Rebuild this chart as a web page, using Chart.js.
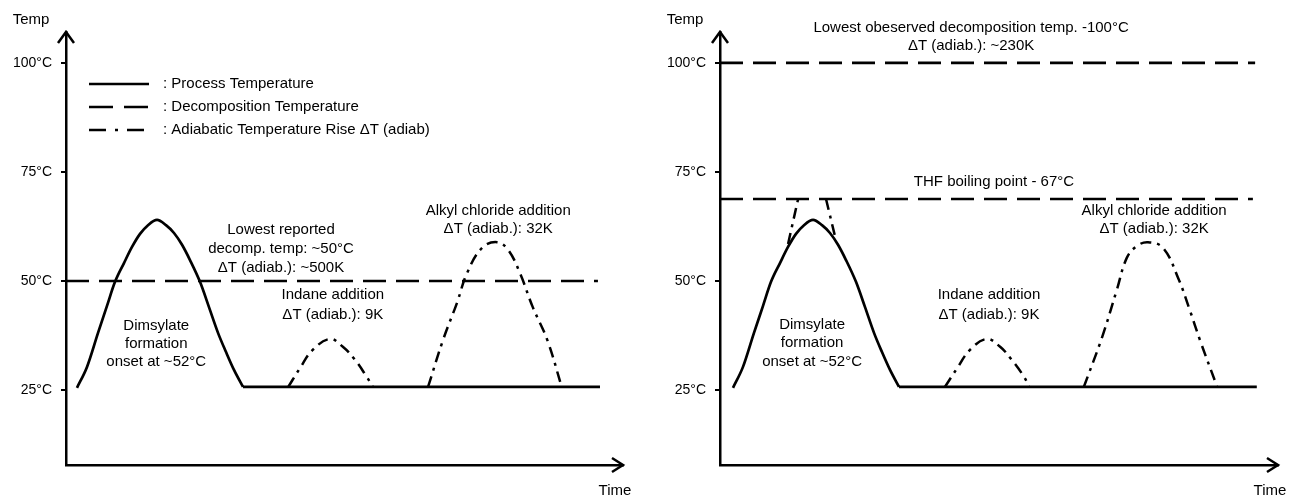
<!DOCTYPE html>
<html>
<head>
<meta charset="utf-8">
<script src="https://cdn.jsdelivr.net/npm/chart.js@4.4.1/dist/chart.umd.min.js"></script>
<style>
    html, body { margin: 0; padding: 0; background: #fff; }
    #wrap { position: relative; width: 1289px; height: 496px; overflow: hidden; }
    canvas { position: absolute; top: 0; }
    #left-chart { left: 0; }
    #right-chart { left: 645px; }
</style>
</head>
<body>
<div id="wrap">
    <canvas id="left-chart" width="645" height="496"></canvas>
    <canvas id="right-chart" width="644" height="496"></canvas>
</div>
<script>
// temperature axis
const temp_ticks = [25, 50, 75, 100];
const temp_min = 7.8;
const temp_max = 107.1;
const time_max = 100;

// process temperature peak (same shape in both panels)
const proc_temp = [25.5, 30.3, 38.1, 44.3, 49.8, 54.1, 57.8, 60.8, 62.8, 64.0, 62.8, 61.0, 58.3, 54.8, 49.8, 44.0, 38.1, 33.7, 29.6, 25.7];

// left panel - process temperature (heating peak, then hold)
const l_proc_time = [1.97, 3.77, 5.75, 7.36, 8.8, 10.41, 11.85, 13.29, 14.72, 16.34, 17.95, 19.39, 20.83, 22.26, 24.06, 25.67, 27.29, 28.73, 30.16, 31.78];
const l_hold_time = [31.78, 95.87];
const l_hold_temp = [25.7, 25.7];
// left panel - decomposition temperature
const l_decomp_time = [0, 95.5];
const l_decomp_temp = [50, 50];
// left panel - adiabatic rises
const l_indane_time = [39.9, 42.0, 44.3, 47.4, 49.7, 51.9, 54.0, 55.1];
const l_indane_temp = [25.7, 30.0, 34.2, 36.7, 34.9, 31.9, 28.0, 25.7];
const l_alkyl_time = [65.0, 67.7, 70.2, 72.0, 74.7, 77.4, 79.4, 81.5, 83.8, 86.4, 89.0];
const l_alkyl_temp = [25.7, 36.5, 45.0, 51.8, 57.6, 58.9, 57.1, 51.8, 44.0, 36.5, 25.7];

// right panel - process temperature
const r_proc_time = [2.33, 4.12, 6.09, 7.71, 9.14, 10.75, 12.19, 13.62, 15.05, 16.67, 18.28, 19.71, 21.15, 22.58, 24.37, 25.99, 27.6, 29.03, 30.47, 32.08];
const r_hold_time = [32.08, 96.2];
const r_hold_temp = [25.7, 25.7];
// right panel - decomposition / THF boiling point
const r_decomp_time = [0, 95.9];
const r_decomp_temp = [100, 100];
const r_thf_time = [0, 95.5];
const r_thf_temp = [68.8, 68.8];
// right panel - adiabatic rises
const r_dims_up_time = [12.2, 14.0];
const r_dims_up_temp = [58.5, 68.8];
const r_dims_down_time = [19.0, 20.6];
const r_dims_down_temp = [68.8, 60.3];
const r_indane_time = [40.3, 42.5, 44.8, 47.8, 50.2, 52.3, 54.5, 55.4];
const r_indane_temp = [25.7, 30.0, 34.2, 36.7, 34.9, 31.9, 28.0, 25.7];
const r_alkyl_time = [65.2, 68.5, 71.1, 72.9, 74.7, 76.7, 79.4, 82.1, 84.2, 86.0, 89.1];
const r_alkyl_temp = [25.7, 37.2, 47.9, 55.3, 58.0, 58.9, 57.6, 50.7, 43.3, 36.5, 25.7];

// annotation texts (time, temp)
const l_notes = [
    ['Lowest reported', 38.6, 61.7],
    ['decomp. temp: ~50\u00b0C', 38.6, 57.3],
    ['\u0394T (adiab.): ~500K', 38.6, 53.0],
    ['Indane addition', 47.9, 46.8],
    ['\u0394T (adiab.): 9K', 47.9, 42.2],
    ['Alkyl chloride addition', 77.6, 66.1],
    ['\u0394T (adiab.): 32K', 77.6, 61.9],
    ['Dimsylate', 16.2, 39.7],
    ['formation', 16.2, 35.6],
    ['onset at ~52\u00b0C', 16.2, 31.4],
];
const r_notes = [
    ['Lowest obeserved decomposition temp. -100\u00b0C', 45.0, 108.0],
    ['\u0394T (adiab.): ~230K', 45.0, 103.9],
    ['THF boiling point - 67\u00b0C', 49.1, 72.7],
    ['Alkyl chloride addition', 77.8, 66.1],
    ['\u0394T (adiab.): 32K', 77.8, 61.9],
    ['Indane addition', 48.2, 46.8],
    ['\u0394T (adiab.): 9K', 48.2, 42.2],
    ['Dimsylate', 16.5, 39.9],
    ['formation', 16.5, 35.8],
    ['onset at ~52\u00b0C', 16.5, 31.4],
];
const legend_labels = [': Process Temperature', ': Decomposition Temperature', ': Adiabatic Temperature Rise \u0394T (adiab)'];

const FONT = '"Liberation Sans", Arial, sans-serif';
const DASH = [23, 10];
const DASH_DOT = [11, 6, 3, 6];
const DASH_LEGEND = [24, 11];
const DOT_LEGEND = [17, 9, 3, 9];

function pts(xs, ys) {
    return xs.map((x, i) => ({ x: x, y: ys[i] }));
}
function solid(xs, ys) {
    return { data: pts(xs, ys), borderColor: '#000', borderWidth: 2.7, pointRadius: 0, cubicInterpolationMode: 'monotone' };
}
function dashed(xs, ys) {
    return { data: pts(xs, ys), borderColor: '#000', borderWidth: 2.7, borderDash: DASH, pointRadius: 0 };
}
function dash_dot(xs, ys) {
    return { data: pts(xs, ys), borderColor: '#000', borderWidth: 2.5, borderDash: DASH_DOT, pointRadius: 0, tension: 0.4 };
}

// draws arrows, axis names, notes and the legend
const sketch_plugin = {
    id: 'sketch',
    afterDraw(chart, args, opts) {
        let ctx = chart.ctx;
        let a = chart.chartArea;
        let xs = chart.scales.x, ys = chart.scales.y;
        ctx.save();
        ctx.strokeStyle = '#000';
        ctx.lineWidth = 2.5;
        ctx.beginPath();
        ctx.moveTo(a.left - 8, a.top + 11);
        ctx.lineTo(a.left, a.top);
        ctx.lineTo(a.left + 8, a.top + 11);
        ctx.moveTo(a.right - 11, a.bottom - 7);
        ctx.lineTo(a.right, a.bottom);
        ctx.lineTo(a.right - 11, a.bottom + 7);
        ctx.stroke();

        ctx.fillStyle = '#000';
        ctx.font = '15px ' + FONT;
        ctx.textBaseline = 'middle';
        ctx.textAlign = 'center';
        ctx.fillText('Temp', a.left - 35, a.top - 12);
        ctx.fillText('Time', a.right - 8, a.bottom + 26);

        opts.notes.forEach((n) => {
            ctx.fillText(n[0], xs.getPixelForValue(n[1]), ys.getPixelForValue(n[2]));
        });

        if (opts.legend) {
            let styles = [[], DASH_LEGEND, DOT_LEGEND];
            legend_labels.forEach((txt, i) => {
                let y = a.top + 52 + i * 23;
                ctx.setLineDash(styles[i]);
                ctx.lineWidth = 2.7;
                ctx.beginPath();
                ctx.moveTo(a.left + 23, y);
                ctx.lineTo(a.left + 83, y);
                ctx.stroke();
                ctx.setLineDash([]);
                ctx.textAlign = 'left';
                ctx.fillText(txt, a.left + 97, y);
            });
        }
        ctx.restore();
    }
};

function make_panel(canvas_id, datasets, notes, show_legend, axis_left, pad_right) {
    let ctx = document.getElementById(canvas_id);
    return new Chart(ctx, {
        type: 'line',
        data: { datasets: datasets },
        options: {
            responsive: false,
            animation: false,
            devicePixelRatio: 1,
            layout: { padding: { top: 32, right: pad_right, bottom: 31, left: 0 } },
            scales: {
                x: {
                    type: 'linear',
                    min: 0,
                    max: time_max,
                    ticks: { display: false },
                    grid: { display: false },
                    border: { color: '#000', width: 2.5 },
                    afterFit: (s) => { s.height = 0; },
                },
                y: {
                    type: 'linear',
                    min: temp_min,
                    max: temp_max,
                    afterBuildTicks: (s) => { s.ticks = temp_ticks.map((v) => ({ value: v })); },
                    afterFit: (s) => { s.width = axis_left; },
                    ticks: {
                        color: '#000',
                        padding: 9,
                        font: { family: FONT, size: 14 },
                        callback: (v) => v + '\u00b0C',
                    },
                    grid: { drawOnChartArea: false, drawTicks: true, tickLength: 5, color: '#000', lineWidth: 2 },
                    border: { color: '#000', width: 2.5 },
                },
            },
            plugins: {
                legend: { display: false },
                tooltip: { enabled: false },
                sketch: { notes: notes, legend: show_legend },
            },
        },
        plugins: [sketch_plugin],
    });
}

make_panel('left-chart', [
    solid(l_proc_time, proc_temp),
    solid(l_hold_time, l_hold_temp),
    dashed(l_decomp_time, l_decomp_temp),
    dash_dot(l_indane_time, l_indane_temp),
    dash_dot(l_alkyl_time, l_alkyl_temp),
], l_notes, true, 66, 22);

make_panel('right-chart', [
    solid(r_proc_time, proc_temp),
    solid(r_hold_time, r_hold_temp),
    dashed(r_decomp_time, r_decomp_temp),
    dashed(r_thf_time, r_thf_temp),
    dash_dot(r_dims_up_time, r_dims_up_temp),
    dash_dot(r_dims_down_time, r_dims_down_temp),
    dash_dot(r_indane_time, r_indane_temp),
    dash_dot(r_alkyl_time, r_alkyl_temp),
], r_notes, false, 75, 11);
</script>
</body>
</html>
